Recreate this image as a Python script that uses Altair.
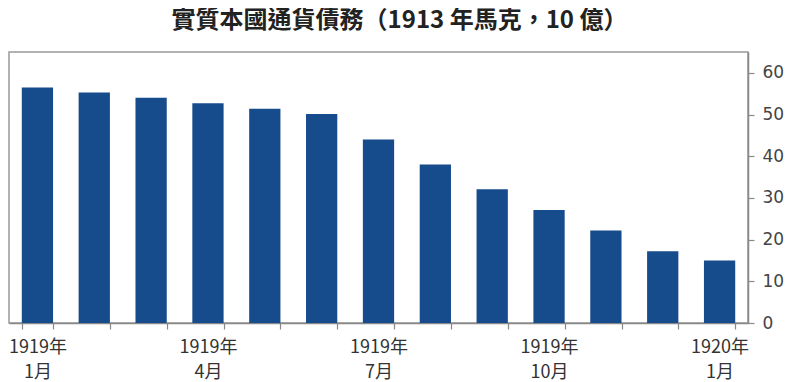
import altair as alt
import pandas as pd

months = ["1919年|1月", "1919年|2月", "1919年|3月", "1919年|4月", "1919年|5月",
          "1919年|6月", "1919年|7月", "1919年|8月", "1919年|9月", "1919年|10月",
          "1919年|11月", "1919年|12月", "1920年|1月"]
values = [56.5, 55.3, 54.0, 52.7, 51.4, 50.1, 44.0, 38.0, 32.1, 27.1, 22.2, 17.2, 15.0]
shown_labels = ["1919年|1月", "1919年|4月", "1919年|7月", "1919年|10月", "1920年|1月"]
y_ticks = [0, 10, 20, 30, 40, 50, 60]

df = pd.DataFrame({"month": months, "value": values})

shown_js = "[" + ",".join("'" + s + "'" for s in shown_labels) + "]"

chart = alt.Chart(df).mark_bar(color="#164b8c").encode(
    x=alt.X("month:N", sort=months,
            scale=alt.Scale(paddingInner=0.45, paddingOuter=0.225),
            axis=alt.Axis(title=None, labelAngle=0, tickBand="extent",
                          labelExpr=f"indexof({shown_js}, datum.value) >= 0 ? split(datum.value, '|') : ''",
                          labelFont="Noto Sans CJK TC", labelFontSize=18, labelColor="#333333",
                          labelLineHeight=25, labelPadding=9,
                          tickSize=6, tickColor="#888888", domainColor="#888888",
                          domainWidth=1.5, tickWidth=1.2, labelBaseline="top")),
    y=alt.Y("value:Q", scale=alt.Scale(domain=[0, 65], nice=False),
            axis=alt.Axis(title=None, orient="right", values=y_ticks, grid=False,
                          labelFont="DejaVu Sans", labelFontSize=17, labelColor="#444444",
                          tickSize=6, tickColor="#888888", domainColor="#888888",
                          domainWidth=1.5, tickWidth=1.2, labelPadding=8)),
).properties(
    width=739, height=271,
    padding={"left": 0, "top": 1, "right": 5, "bottom": 0},
    title=alt.TitleParams("實質本國通貨債務（1913 年馬克，10 億）",
                          font="Noto Sans CJK TC", fontSize=24, fontWeight="bold",
                          color="#222222", offset=19, dx=21, anchor="middle"),
).configure_view(stroke="#999999", strokeWidth=1.5)

chart.save("out.html", embed_options={"renderer": "svg", "actions": False})
